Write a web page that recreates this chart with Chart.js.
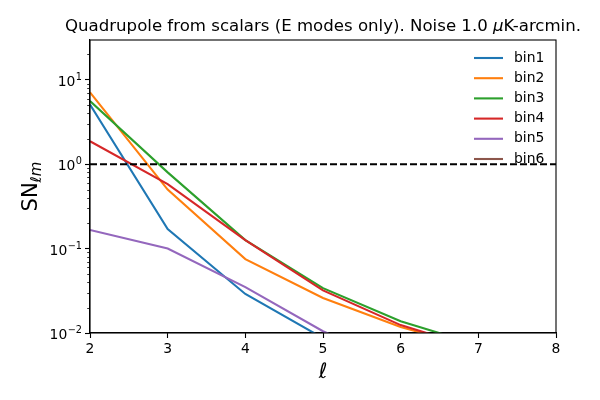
<!DOCTYPE html>
<html>
<head>
<meta charset="utf-8">
<script src="https://cdn.jsdelivr.net/npm/chart.js@4"></script>
<style>
  html, body { margin: 0; padding: 0; background: #fff; }
</style>
</head>
<body>
<canvas id="snChart" width="600" height="400"></canvas>
<script>
// multipoles on the x axis
const ells = [2, 3, 4, 5, 6, 7, 8];

// SN per bin
const bin1 = [5.1, 0.17, 0.029, 0.0087, 0.003, 0.001, 0.0004];
const bin2 = [7.1, 0.50, 0.075, 0.026, 0.0118, 0.0065, 0.003];
const bin3 = [5.6, 0.80, 0.126, 0.034, 0.0138, 0.0072, 0.004];
const bin4 = [1.87, 0.58, 0.126, 0.032, 0.0124, 0.0065, 0.003];
const bin5 = [0.166, 0.10, 0.035, 0.0105, 0.004, 0.0015, 0.0006];
const bin6 = [0.004, 0.002, 0.001, 0.0005, 0.0003, 0.0002, 0.0001];

const binNames = ['bin1', 'bin2', 'bin3', 'bin4', 'bin5', 'bin6'];
const binColors = ['#1f77b4', '#ff7f0e', '#2ca02c', '#d62728', '#9467bd', '#8c564b'];
const threshold = [1, 1];
const thresholdEll = [2, 8];

const xTicks = [2, 3, 4, 5, 6, 7, 8];
const yMajor = [0.01, 0.1, 1, 10];
const yExponents = ['−2', '−1', '0', '1'];
const yMinor = [0.02, 0.03, 0.04, 0.05, 0.06, 0.07, 0.08, 0.09,
                0.2, 0.3, 0.4, 0.5, 0.6, 0.7, 0.8, 0.9,
                2, 3, 4, 5, 6, 7, 8, 9, 20];

const FONT = 'DejaVu Sans';

const allBins = [bin1, bin2, bin3, bin4, bin5, bin6];
const datasets = allBins.map((vals, i) => ({
    label: binNames[i],
    data: ells.map((x, j) => ({ x: x, y: vals[j] })),
    borderColor: binColors[i],
    backgroundColor: binColors[i],
    borderWidth: 2.1,
    pointRadius: 0,
    tension: 0,
    clip: 0,
    order: 10 - i
}));
datasets.push({
    label: 'SN=1',
    data: thresholdEll.map((x, j) => ({ x: x, y: threshold[j] })),
    borderColor: '#000',
    borderWidth: 2.1,
    borderDash: [7, 3],
    pointRadius: 0,
    clip: 0,
    order: 0
});

// frame, minor ticks, log tick labels, title, axis labels and legend
const decorPlugin = {
    id: 'decor',
    afterDraw(chart) {
        const ctx = chart.ctx;
        const a = chart.chartArea;
        const yScale = chart.scales.y;
        ctx.save();

        // full box around the axes
        ctx.strokeStyle = '#000';
        ctx.lineWidth = 1.1;
        ctx.strokeRect(a.left, a.top, a.right - a.left, a.bottom - a.top);

        // short minor ticks on the log axis
        ctx.lineWidth = 0.8;
        yMinor.forEach(v => {
            const py = Math.round(yScale.getPixelForValue(v)) + 0.5;
            ctx.beginPath();
            ctx.moveTo(a.left - 2.8, py);
            ctx.lineTo(a.left, py);
            ctx.stroke();
        });

        ctx.fillStyle = '#000';
        ctx.textBaseline = 'alphabetic';

        // 10^n labels with a real superscript
        yMajor.forEach((v, k) => {
            const py = yScale.getPixelForValue(v);
            const rightX = a.left - 8;
            ctx.font = '9.7px ' + FONT;
            const wExp = ctx.measureText(yExponents[k]).width;
            ctx.textAlign = 'left';
            ctx.fillText(yExponents[k], rightX - wExp, py);
            ctx.font = '13.9px ' + FONT;
            ctx.textAlign = 'right';
            ctx.fillText('10', rightX - wExp - 0.5, py + 6);
        });

        // title, with an italic mu
        const parts = [
            { t: 'Quadrupole from scalars (E modes only). Noise 1.0 ', f: '16.6px ' + FONT },
            { t: 'μ', f: 'italic 16.6px ' + FONT },
            { t: 'K-arcmin.', f: '16.6px ' + FONT }
        ];
        let total = 0;
        parts.forEach(p => { ctx.font = p.f; p.w = ctx.measureText(p.t).width; total += p.w; });
        let tx = (a.left + a.right) / 2 - total / 2;
        ctx.textAlign = 'left';
        parts.forEach(p => { ctx.font = p.f; ctx.fillText(p.t, tx, 31); tx += p.w; });

        // x label
        ctx.font = 'italic 21px ' + FONT;
        ctx.textAlign = 'center';
        ctx.fillText('ℓ', (a.left + a.right) / 2, 378);

        // y label SN_{lm}, rotated
        ctx.save();
        ctx.translate(37, (a.top + a.bottom) / 2);
        ctx.rotate(-Math.PI / 2);
        ctx.textAlign = 'left';
        ctx.font = '21px ' + FONT;
        const wSN = ctx.measureText('SN').width;
        ctx.font = 'italic 15px ' + FONT;
        const wSub = ctx.measureText('ℓm').width;
        const start = -(wSN + wSub) / 2;
        ctx.font = '21px ' + FONT;
        ctx.fillText('SN', start, 0);
        ctx.font = 'italic 15px ' + FONT;
        ctx.fillText('ℓm', start + wSN, 4);
        ctx.restore();

        // legend, no frame
        ctx.font = '13.9px ' + FONT;
        ctx.textAlign = 'left';
        ctx.textBaseline = 'middle';
        binNames.forEach((name, i) => {
            const ly = 58 + i * 20.2;
            ctx.strokeStyle = binColors[i];
            ctx.lineWidth = 2.1;
            ctx.beginPath();
            ctx.moveTo(474, ly);
            ctx.lineTo(503, ly);
            ctx.stroke();
            ctx.fillText(name, 514, ly);
        });

        ctx.restore();
    }
};

const ctx = document.getElementById('snChart').getContext('2d');
const snChart = new Chart(ctx, {
    type: 'line',
    data: { datasets: datasets },
    options: {
        responsive: false,
        animation: false,
        devicePixelRatio: 1,
        layout: { padding: { top: 40, right: 44, left: 0, bottom: 0 } },
        plugins: {
            legend: { display: false },
            tooltip: { enabled: false },
            title: { display: false }
        },
        scales: {
            x: {
                type: 'linear',
                min: 2,
                max: 8,
                afterBuildTicks: scale => { scale.ticks = xTicks.map(v => ({ value: v })); },
                afterFit: scale => { scale.height = 67; },
                ticks: {
                    color: '#000',
                    font: { family: FONT, size: 13.9 },
                    padding: 3,
                    maxRotation: 0,
                    autoSkip: false
                },
                grid: {
                    drawOnChartArea: false,
                    drawTicks: true,
                    tickLength: 5,
                    tickColor: '#000',
                    tickWidth: 1.1
                },
                border: { color: '#000', width: 1.1 }
            },
            y: {
                type: 'logarithmic',
                min: 0.01,
                max: 29.6,
                afterBuildTicks: scale => { scale.ticks = yMajor.map(v => ({ value: v })); },
                afterFit: scale => { scale.width = 90; },
                ticks: {
                    display: false,
                    autoSkip: false
                },
                grid: {
                    drawOnChartArea: false,
                    drawTicks: true,
                    tickLength: 5,
                    tickColor: '#000',
                    tickWidth: 1.1
                },
                border: { color: '#000', width: 1.1 }
            }
        }
    },
    plugins: [decorPlugin]
});
</script>
</body>
</html>
